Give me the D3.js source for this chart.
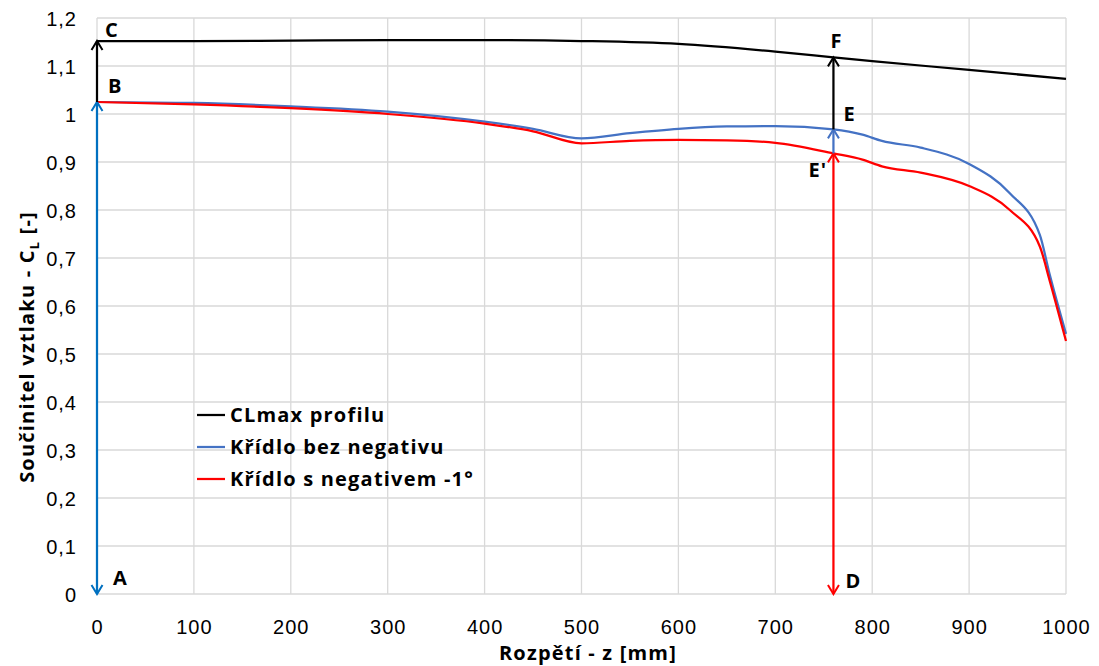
<!DOCTYPE html>
<html>
<head>
<meta charset="utf-8">
<script src="https://cdn.jsdelivr.net/npm/d3@7"></script>
<style>
  body { margin: 0; background: #fff; }
  svg { font-family: "Open Sans", "Noto Sans", sans-serif; }
  .tick text { font-size: 20px; fill: #000; letter-spacing: 1px; }
  .lbl { font-size: 20px; font-weight: bold; fill: #000; letter-spacing: 1.2px; }
</style>
</head>
<body>
<svg id="chart" width="1099" height="666"></svg>
<script>
// --- data ---
var clmaxZ = [0, 100, 200, 300, 400, 500, 600, 700, 760, 800, 900, 1000];
var clmaxVal = [1.152, 1.152, 1.153, 1.154, 1.154, 1.152, 1.146, 1.130, 1.118, 1.110, 1.092, 1.073];

var blueZ = [0, 100, 200, 300, 400, 450, 500, 550, 600, 650, 700, 760, 790, 810, 850, 900, 942, 973, 983, 1000];
var blueVal = [1.025, 1.023, 1.016, 1.005, 0.984, 0.969, 0.949, 0.960, 0.969, 0.974, 0.975, 0.968, 0.957, 0.944, 0.930, 0.896, 0.835, 0.748, 0.667, 0.542];

var redZ = [0, 100, 200, 300, 400, 450, 500, 550, 600, 650, 700, 760, 790, 810, 850, 900, 942, 973, 983, 1000];
var redVal = [1.025, 1.020, 1.012, 1.000, 0.980, 0.964, 0.939, 0.944, 0.946, 0.945, 0.940, 0.918, 0.905, 0.891, 0.878, 0.850, 0.800, 0.724, 0.654, 0.527];

var seriesNames = ["CLmax profilu", "Křídlo bez negativu", "Křídlo s negativem -1°"];
var seriesColors = ["#000000", "#4472C4", "#FF0000"];

var xTicks = [0, 100, 200, 300, 400, 500, 600, 700, 800, 900, 1000];
var yTicks = [0, 0.1, 0.2, 0.3, 0.4, 0.5, 0.6, 0.7, 0.8, 0.9, 1.0, 1.1, 1.2];

// annotation arrows: [z, from, to, colour, head at start, head at end]
var arrows = [
  [0, 0, 1.025, "#0070C0", true, true],
  [0, 1.025, 1.152, "#000000", false, true],
  [760, 0, 0.918, "#FF0000", true, true],
  [760, 0.918, 0.968, "#4472C4", false, true],
  [760, 0.968, 1.118, "#000000", false, true]
];
// point labels: [text, z, value, dx, dy]
var pointLabels = [
  ["A", 0, 0, 16, -9],
  ["B", 0, 1.025, 11, -9],
  ["C", 0, 1.152, 8, -4],
  ["D", 760, 0, 12, -6],
  ["E", 760, 0.968, 10, -8],
  ["E'", 760, 0.918, -25, 24],
  ["F", 760, 1.118, -3, -9]
];

var svg = d3.select("#chart"),
    margin = {top: 18, right: 33, bottom: 72, left: 97},
    width = +svg.attr("width") - margin.left - margin.right,
    height = +svg.attr("height") - margin.top - margin.bottom;

var x = d3.scaleLinear().domain([0, 1000]).range([0, width]);
var y = d3.scaleLinear().domain([0, 1.2]).range([height, 0]);

var fmt = function(d) { return d3.format(".1~f")(d).replace(".", ","); };

var g = svg.append("g")
  .attr("transform", "translate(" + margin.left + "," + margin.top + ")");

// gridlines
g.append("g").selectAll("line").data(xTicks).enter().append("line")
  .attr("x1", function(d) { return x(d); }).attr("x2", function(d) { return x(d); })
  .attr("y1", 0).attr("y2", height)
  .attr("stroke", "#d9d9d9").attr("stroke-width", 1.3);
g.append("g").selectAll("line").data(yTicks).enter().append("line")
  .attr("x1", 0).attr("x2", width)
  .attr("y1", function(d) { return y(d); }).attr("y2", function(d) { return y(d); })
  .attr("stroke", "#d9d9d9").attr("stroke-width", 1.3);

// axes (labels only)
var xAxis = g.append("g")
  .attr("transform", "translate(0," + height + ")")
  .call(d3.axisBottom(x).tickValues(xTicks).tickSize(0).tickPadding(26).tickFormat(d3.format("d")));
xAxis.select(".domain").remove();

var yAxis = g.append("g")
  .call(d3.axisLeft(y).tickValues(yTicks).tickSize(0).tickPadding(20).tickFormat(fmt));
yAxis.select(".domain").remove();
yAxis.selectAll(".tick text").attr("dy", "0.35em");

// series
var line = d3.line()
  .curve(d3.curveMonotoneX)
  .x(function(d) { return x(d[0]); })
  .y(function(d) { return y(d[1]); });

var series = [
  d3.zip(clmaxZ, clmaxVal),
  d3.zip(blueZ, blueVal),
  d3.zip(redZ, redVal)
];

g.selectAll(".series").data(series).enter().append("path")
  .attr("class", "series")
  .attr("fill", "none")
  .attr("stroke", function(d, i) { return seriesColors[i]; })
  .attr("stroke-width", 2.25)
  .attr("d", line);

// arrows
function head(px, py, dir, col) {
  // dir: -1 points up, +1 points down
  g.append("path")
    .attr("d", "M" + (px - 5.5) + "," + (py - dir * 9) + "L" + px + "," + py + "L" + (px + 5.5) + "," + (py - dir * 9))
    .attr("fill", "none").attr("stroke", col).attr("stroke-width", 2);
}
arrows.forEach(function(a) {
  var px = x(a[0]), y0 = y(a[1]), y1 = y(a[2]);
  g.append("line")
    .attr("x1", px).attr("x2", px).attr("y1", y0).attr("y2", y1)
    .attr("stroke", a[3]).attr("stroke-width", 2.25);
  if (a[4]) head(px, y0, 1, a[3]);
  if (a[5]) head(px, y1, -1, a[3]);
});

// point labels
g.selectAll(".pt").data(pointLabels).enter().append("text")
  .attr("class", "lbl")
  .attr("x", function(d) { return x(d[1]) + d[3]; })
  .attr("y", function(d) { return y(d[2]) + d[4]; })
  .text(function(d) { return d[0]; });

// legend
var leg = g.append("g").attr("transform", "translate(100,397)");
seriesNames.forEach(function(n, i) {
  var row = leg.append("g").attr("transform", "translate(0," + (i * 32) + ")");
  row.append("line").attr("x1", 0).attr("x2", 28).attr("y1", 0).attr("y2", 0)
    .attr("stroke", seriesColors[i]).attr("stroke-width", 2.25);
  row.append("text").attr("class", "lbl").attr("x", 33).attr("y", 0).attr("dy", "0.35em").text(n);
});

// axis titles
svg.append("text").attr("class", "lbl")
  .attr("x", 588).attr("y", 660)
  .attr("text-anchor", "middle")
  .text("Rozpětí - z [mm]");

var yt = svg.append("text").attr("class", "lbl")
  .attr("transform", "translate(34,347) rotate(-90)")
  .attr("text-anchor", "middle");
yt.append("tspan").text("Součinitel vztlaku - C");
yt.append("tspan").attr("dy", 5).attr("font-size", 13).text("L");
yt.append("tspan").attr("dy", -5).text(" [-]");
</script>
</body>
</html>
